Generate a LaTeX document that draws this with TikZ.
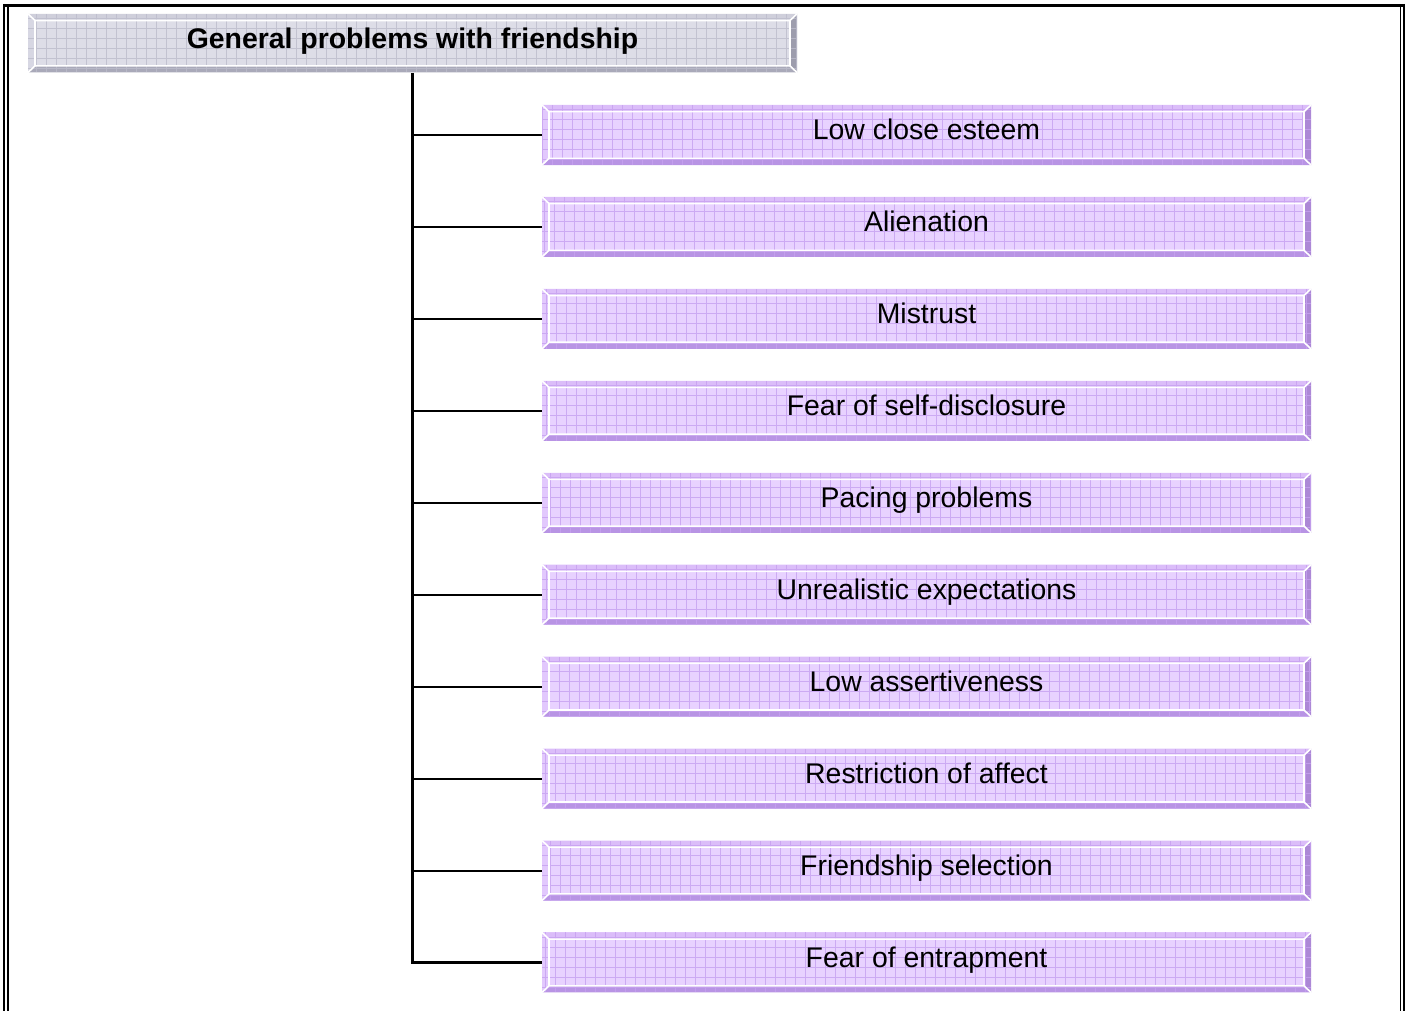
\documentclass[tikz,border=0pt]{standalone}
\usepackage{fontspec}
\setmainfont{Liberation Sans}
\usetikzlibrary{calc}

% palettes for the bevelled boxes
\definecolor{pFace}{HTML}{E8D2FF}
\definecolor{pGrid}{HTML}{C6A0F0}
\definecolor{pTop}{HTML}{DBBDF9}
\definecolor{pBot}{HTML}{B894E4}
\definecolor{pLeft}{HTML}{E2C8FD}
\definecolor{pRight}{HTML}{AC88D6}
\definecolor{gFace}{HTML}{DDDDE7}
\definecolor{gGrid}{HTML}{BCBCCB}
\definecolor{gTop}{HTML}{CFCFDB}
\definecolor{gBot}{HTML}{A9A9B9}
\definecolor{gLeft}{HTML}{D7D7E3}
\definecolor{gRight}{HTML}{9D9DAD}

% bevelled, gridded fill: face, grid, top, bottom, left, right
\newcommand\bevelpic[6]{%
  \coordinate (p1) at (path picture bounding box.south west);
  \coordinate (p2) at (path picture bounding box.north east);
  \coordinate (p3) at (path picture bounding box.north west);
  \coordinate (p4) at (path picture bounding box.south east);
  \coordinate (q1) at ($(p1)+(3.5pt,3.3pt)$);
  \coordinate (q2) at ($(p2)+(-3.5pt,-3.3pt)$);
  \coordinate (q3) at ($(p3)+(3.5pt,-3.3pt)$);
  \coordinate (q4) at ($(p4)+(-3.5pt,3.3pt)$);
  \fill[#1] (p1) rectangle (p2);
  \fill[#3] (p3) -- (p2) -- (q2) -- (q3) -- cycle;
  \fill[#4] (p1) -- (p4) -- (q4) -- (q1) -- cycle;
  \fill[#5] (p1) -- (p3) -- (q3) -- (q1) -- cycle;
  \fill[#6] (p4) -- (p2) -- (q2) -- (q4) -- cycle;
  \draw[#2, line width=0.45pt, opacity=.8, step=5pt] (p1) grid (p2);
  \draw[white, line width=0.8pt] (q1) rectangle (q2)
    (q1) -- (p1) (q2) -- (p2) (q3) -- (p3) (q4) -- (p4);
}

\tikzset{
  boxtext/.style={font=\fontsize{14.2pt}{17pt}\selectfont, text=black,
    align=center, inner sep=0pt, minimum width=384.5pt},
  catbox/.style={boxtext, minimum height=30pt, text height=9pt, text depth=4.3pt,
    path picture={\bevelpic{pFace}{pGrid}{pTop}{pBot}{pLeft}{pRight}}},
  headbox/.style={boxtext, font=\fontsize{14.2pt}{17pt}\selectfont\bfseries,
    minimum height=29.3pt, text height=9pt, text depth=3.3pt,
    path picture={\bevelpic{gFace}{gGrid}{gTop}{gBot}{gLeft}{gRight}}},
  trunk/.style={draw=black, line width=1.15pt},
  branch/.style={draw=black, line width=1pt},
  frame/.style={draw=black}
}

\begin{document}
\begin{tikzpicture}[x=0.5pt, y=-0.5pt]
  \useasboundingbox (0,0) rectangle (1408,1011);

  % page frame: thick top rule, double rules left and right
  \draw[frame, line width=1.65pt] (3,5.7) -- (1404.5,5.7);
  \draw[frame, line width=0.85pt] (3.8,4) -- (3.8,1011);
  \draw[frame, line width=0.85pt] (7.9,7.3) -- (7.9,1011);
  \draw[frame, line width=0.7pt] (1400.4,7.3) -- (1400.4,1011);
  \draw[frame, line width=1pt] (1403.5,4) -- (1403.5,1011);

  % heading
  \node[headbox] (title) at (412.5,43.2) {General problems with friendship};

  % problem boxes
  \foreach \name/\txt [count=\i from 0] in {
      b1/Low close esteem,
      b2/Alienation,
      b3/Mistrust,
      b4/Fear of self-disclosure,
      b5/Pacing problems,
      b6/Unrealistic expectations,
      b7/Low assertiveness,
      b8/Restriction of affect,
      b9/Friendship selection,
      b10/Fear of entrapment} {
    \node[catbox] (\name) at (926.5,{135+91.94*\i}) {\txt};
  }

  % connectors
  \draw[trunk] (title.south) |- (b10.west);
  \foreach \name in {b1,b2,b3,b4,b5,b6,b7,b8,b9} {
    \draw[branch] (title.south |- \name.west) -- (\name.west);
  }
\end{tikzpicture}
\end{document}
